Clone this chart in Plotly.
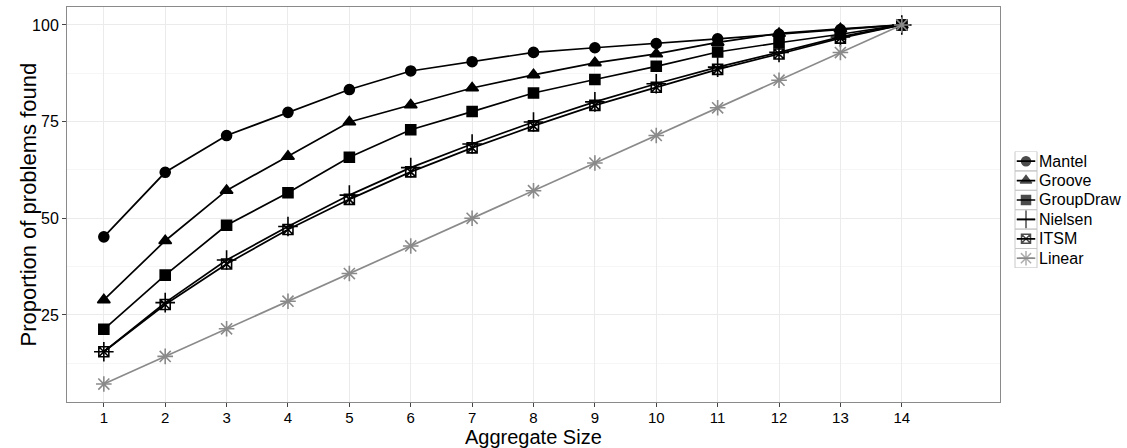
import plotly.graph_objects as go

sizes = list(range(1, 15))
mantel = [45.2, 61.9, 71.4, 77.4, 83.3, 88.1, 90.5, 92.9, 94.1, 95.2, 96.4, 97.6, 98.8, 100]
groove = [28.9, 44.2, 57.2, 66.0, 74.9, 79.3, 83.7, 87.1, 90.2, 92.5, 95.5, 97.8, 99.0, 100]
groupdraw = [21.3, 35.3, 48.2, 56.6, 65.8, 72.9, 77.6, 82.4, 85.9, 89.3, 93.0, 95.4, 97.6, 100]
nielsen = [15.5, 28.2, 39.2, 47.9, 56.0, 63.1, 69.2, 74.9, 80.1, 84.8, 89.1, 92.9, 96.9, 100]
itsm = [15.5, 27.7, 38.2, 47.1, 54.9, 62.0, 68.2, 73.9, 79.2, 83.9, 88.5, 92.5, 96.6, 100]
linear = [100 * k / 14 for k in sizes]

names = ["Mantel", "Groove", "GroupDraw", "Nielsen", "ITSM", "Linear"]
values = [mantel, groove, groupdraw, nielsen, itsm, linear]
symbols = ["circle", "triangle-up", "square", "cross-thin-open", "square-x-open", "asterisk-open"]
colors = ["black", "black", "black", "black", "black", "#8a8a8a"]
msizes = [10, 11, 10, 14, 10, 13]
key_sizes = [9, 10, 9, 13, 9, 12]

W, H = 1127, 448
ML, MR, MT, MB = 67, 0, 7, 46
plot_right = 1000
pw = W - ML - MR
ph = H - MT - MB

def fx(px):
    return (px - ML) / pw

def fy(py):
    return (H - MB - py) / ph

fig = go.Figure()
for name, vals, sym, col, sz in zip(names, values, symbols, colors, msizes):
    fig.add_trace(go.Scatter(
        x=sizes, y=vals, name=name, mode="lines+markers",
        line=dict(color=col, width=1.7),
        marker=dict(symbol=sym, size=sz, color=col, line=dict(color=col, width=1.6)),
        xaxis="x", yaxis="y", showlegend=False,
    ))

# custom legend (ggplot-style keys with grey boxes)
shapes = []
annotations = []
n = len(names)
for i, (name, sym, col, ks) in enumerate(zip(names, symbols, colors, key_sizes)):
    shapes.append(dict(type="rect", xref="paper", yref="y2", x0=fx(1015), x1=fx(1037),
                       y0=i, y1=i + 1, line=dict(color="#c8c8c8", width=1),
                       fillcolor="rgba(0,0,0,0)", layer="above"))
    fig.add_trace(go.Scatter(
        x=[0.08, 0.5, 0.92], y=[i + 0.5] * 3, mode="lines+markers",
        line=dict(color=col, width=1.7),
        marker=dict(symbol=sym, size=[0, ks, 0], color=col, line=dict(color=col, width=1.5)),
        xaxis="x2", yaxis="y2", showlegend=False, hoverinfo="skip",
    ))
    annotations.append(dict(text=name, xref="paper", yref="y2", x=fx(1037), y=i + 0.5,
                            xanchor="left", yanchor="middle", showarrow=False,
                            font=dict(size=16, color="black")))

# axis titles
annotations.append(dict(text="Aggregate Size", xref="paper", yref="paper",
                        x=fx((ML + plot_right) / 2), y=fy(437), xanchor="center", yanchor="middle",
                        showarrow=False, borderpad=0, font=dict(size=20, color="black")))
annotations.append(dict(text="Proportion of problems found", xref="paper", yref="paper",
                        x=fx(28), y=fy((MT + H - MB) / 2), xanchor="center", yanchor="middle",
                        textangle=-90, showarrow=False, font=dict(size=22, color="black")))

fig.update_layout(
    width=W, height=H,
    margin=dict(l=ML, r=MR, t=MT, b=MB),
    paper_bgcolor="white", plot_bgcolor="white",
    font=dict(family="Liberation Sans, Arial, sans-serif", color="black"),
    showlegend=False,
    shapes=shapes, annotations=annotations,
    xaxis=dict(
        domain=[0, fx(plot_right)],
        range=[0.4, 15.6], tickvals=sizes, ticktext=[str(s) for s in sizes],
        showgrid=True, gridcolor="#ebebeb", gridwidth=1, zeroline=False,
        showline=True, linecolor="#8a8a8a", linewidth=1, mirror=True,
        ticks="outside", ticklen=4, tickcolor="#444444", ticklabelstandoff=-2,
        tickfont=dict(size=15, color="black"), automargin=False,
    ),
    yaxis=dict(
        domain=[0, 1],
        range=[2.5, 104.64], tickvals=[25, 50, 75, 100],
        showgrid=True, gridcolor="#ebebeb", gridwidth=1, zeroline=False,
        showline=True, linecolor="#8a8a8a", linewidth=1, mirror=True,
        ticks="outside", ticklen=4, tickcolor="#444444",
        tickfont=dict(size=16, color="black"), automargin=False,
        minor=dict(tickvals=[12.5, 37.5, 62.5, 87.5], showgrid=True, gridcolor="#f6f6f6", ticks=""),
    ),
    xaxis2=dict(domain=[fx(1015), fx(1037)], range=[0, 1], visible=False, fixedrange=True,
                anchor="y2"),
    yaxis2=dict(domain=[fy(151.5 + n * 19.4), fy(151.5)], range=[n, 0], visible=False,
                fixedrange=True, anchor="x2"),
)
fig.write_html("out.html", config={"displayModeBar": False},
               post_script="document.body.style.margin='0';document.body.style.overflow='hidden';")
